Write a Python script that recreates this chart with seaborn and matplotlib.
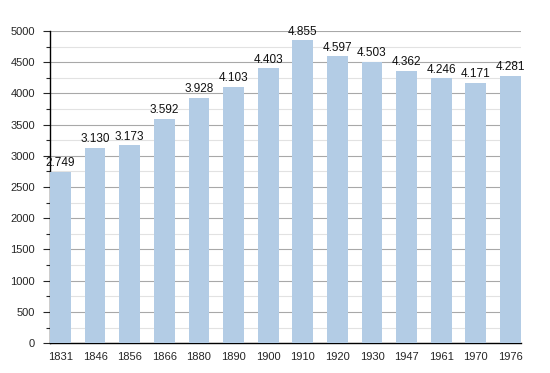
import matplotlib
matplotlib.use("Agg")
import matplotlib.pyplot as plt
import seaborn as sns
import pandas as pd
from matplotlib.ticker import MultipleLocator

years = ["1831", "1846", "1856", "1866", "1880", "1890", "1900",
         "1910", "1920", "1930", "1947", "1961", "1970", "1976"]
population = [2749, 3130, 3173, 3592, 3928, 4103, 4403,
              4855, 4597, 4503, 4362, 4246, 4171, 4281]

df = pd.DataFrame({"year": years, "population": population})

sns.set_style("white")
plt.rcParams["font.family"] = ["Liberation Sans", "DejaVu Sans"]

fig = plt.figure(figsize=(5.5, 3.73), dpi=100)
ax = fig.add_axes([0.091, 0.080, 0.856, 0.837])

sns.barplot(data=df, x="year", y="population", color="#b3cce5",
            saturation=1, width=0.6, linewidth=0, ax=ax, zorder=3)

# labels with dot as thousand separator
for i, v in enumerate(population):
    ax.text(i, v + 40, f"{v:,}".replace(",", "."), ha="center", va="bottom",
            fontsize=8.5, color="#111111", zorder=4)

ax.set_xlim(-0.3, len(years) - 0.7)
ax.set_ylim(0, 5000)
ax.yaxis.set_major_locator(MultipleLocator(500))
ax.yaxis.set_minor_locator(MultipleLocator(250))
ax.grid(axis="y", which="major", color="#a8a8a8", linewidth=0.8, zorder=0)
ax.grid(axis="y", which="minor", color="#e2e2e2", linewidth=0.8, zorder=0)
ax.set_axisbelow(True)

for s in ["top", "right"]:
    ax.spines[s].set_visible(False)
for s in ["left", "bottom"]:
    ax.spines[s].set_color("black")
    ax.spines[s].set_linewidth(1.0)

ax.tick_params(axis="y", which="major", left=True, length=5, width=0.8,
               labelsize=8, pad=6)
ax.tick_params(axis="y", which="minor", left=True, length=3, width=0.8)
ax.tick_params(axis="x", bottom=False, labelsize=8, pad=3)
ax.set_xlabel("")
ax.set_ylabel("")

fig.savefig("out.png", dpi=100)
